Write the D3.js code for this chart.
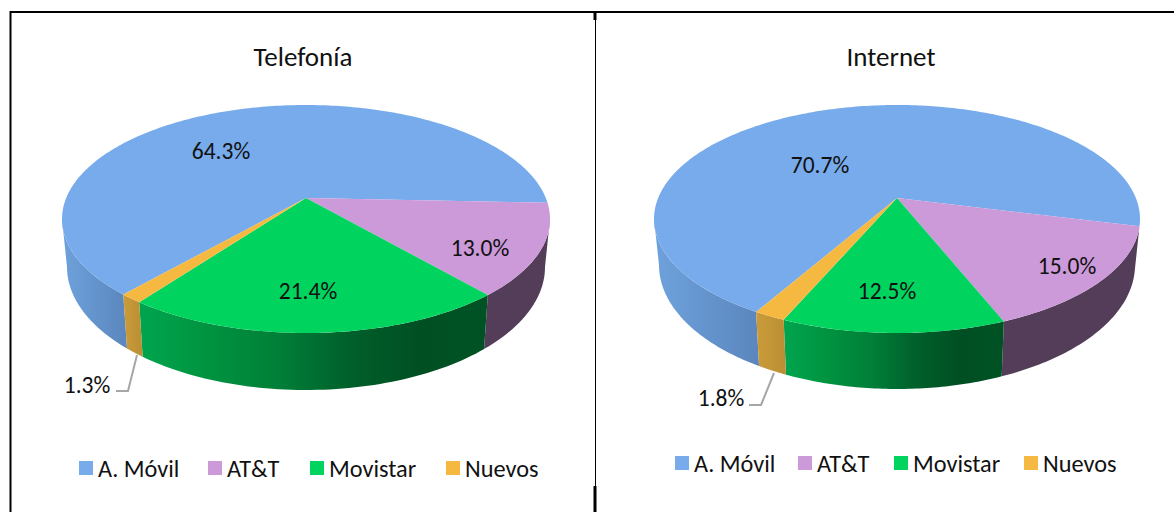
<!DOCTYPE html>
<html lang="es">
<head>
    <meta charset="UTF-8">
    <title>Telefonía e Internet</title>
    <script src="https://d3js.org/d3.v7.min.js"></script>
    <style>
        body {
            margin: 0;
            padding: 0;
            background: #fff;
        }
        svg {
            display: block;
        }
        text {
            font-family: Carlito, Lato, sans-serif;
            fill: #111;
        }
        .title {
            font-size: 27px;
            text-anchor: middle;
        }
        .pct {
            font-size: 23.5px;
            text-anchor: middle;
        }
        .legend-label {
            font-size: 24.3px;
        }
        .leader {
            fill: none;
            stroke: #a6a6a6;
            stroke-width: 2px;
        }
        .frame {
            stroke: #000;
            fill: none;
        }
    </style>
</head>
<body>
    <svg width="1174" height="512"></svg>
    <script>
        // Values
        const categories = ["A. Móvil", "AT&T", "Movistar", "Nuevos"];
        const telefonia = [64.3, 13.0, 21.4, 1.3];
        const internet = [70.7, 15.0, 12.5, 1.8];

        const topColors = ["#78abec", "#cc99d9", "#00d45f", "#f5b942"];
        // side wall gradients, left to right
        const wallStops = [
            ["#6ea2dc", "#5b86bd"],
            ["#533d59", "#533d59"],
            ["#00a54f", "#00933f", "#007f38", "#00602b", "#004f22", "#005225"],
            ["#cb9b39", "#b98f33"]
        ];

        const svg = d3.select("svg");
        const defs = svg.append("defs");

        // Frame lines from the surrounding table
        const frame = svg.append("g").attr("class", "frame");
        const frameLine = (x1, y1, x2, y2, w) => frame.append("line")
            .attr("x1", x1).attr("y1", y1).attr("x2", x2).attr("y2", y2)
            .attr("stroke-width", w);
        frameLine(10, 12, 1174, 12, 2);
        frameLine(10.5, 11, 10.5, 512, 2);
        frameLine(595, 12, 595, 20, 3);
        frameLine(595.5, 20, 595.5, 486, 1);
        frameLine(595, 486, 595, 512, 3);

        // Perspective pull of the pie centre towards the back
        const k = -0.184;
        const rad = Math.PI / 180;

        // Project a d3.pie angle onto an ellipse
        function project(a, e) {
            const c = Math.sin(a), s = -Math.cos(a);
            const w = 1 + k * s;
            return [
                e.cx + e.rx * Math.sqrt(1 - k * k) * c / w,
                e.cy + e.ry * (s + k) / w
            ];
        }

        const line = d3.line();

        function drawPie(p, idx) {
            const g = svg.append("g");
            const pie = d3.pie().sort(null).startAngle(p.start * rad).endAngle((p.start + 360) * rad);
            const arcs = pie(p.values);

            // Front of the wall only: between the two side tangents
            const wallFrom = 100.6 * rad, wallTo = 259.4 * rad;

            arcs.forEach((d, i) => {
                // slices past a full turn come round to the front again
                const turn = d.startAngle >= 2 * Math.PI ? 2 * Math.PI : 0;
                const a0 = Math.max(d.startAngle - turn, wallFrom);
                const a1 = Math.min(d.endAngle - turn, wallTo);
                if (a1 <= a0) return;
                const steps = d3.range(0, 61).map(t => a0 + (a1 - a0) * t / 60);
                const pts = steps.map(a => project(a, p.top))
                    .concat(steps.slice().reverse().map(a => project(a, p.bottom)));

                const id = `wall-${idx}-${i}`;
                const grad = defs.append("linearGradient").attr("id", id);
                grad.selectAll("stop")
                    .data(wallStops[i])
                    .join("stop")
                    .attr("offset", (c, j) => j / (wallStops[i].length - 1))
                    .attr("stop-color", c => c);

                g.append("path")
                    .attr("d", line(pts) + "Z")
                    .attr("fill", `url(#${id})`);
            });

            // Top face
            const apex = [p.top.cx, p.top.cy + p.top.ry * k];
            arcs.forEach((d, i) => {
                const n = Math.ceil((d.endAngle - d.startAngle) / rad) + 2;
                const rim = d3.range(0, n + 1).map(t =>
                    project(d.startAngle + (d.endAngle - d.startAngle) * t / n, p.top));
                g.append("path")
                    .attr("d", line([apex, ...rim]) + "Z")
                    .attr("fill", topColors[i]);
            });

            g.append("text").attr("class", "title")
                .attr("x", p.titleX).attr("y", 66)
                .text(p.title);

            // Percent labels
            g.selectAll(".pct")
                .data(arcs)
                .join("text")
                .attr("class", "pct")
                .attr("x", (d, i) => p.labels[i][0])
                .attr("y", (d, i) => p.labels[i][1])
                .attr("dy", "0.35em")
                .text(d => d3.format(".1f")(d.data) + "%");

            g.append("path").attr("class", "leader").attr("d", line(p.leader));

            // Legend
            const lg = g.append("g");
            categories.forEach((c, i) => {
                lg.append("rect")
                    .attr("x", p.legendX[i]).attr("y", p.legendY - 7)
                    .attr("width", 14).attr("height", 14)
                    .attr("fill", topColors[i]);
                lg.append("text").attr("class", "legend-label")
                    .attr("x", p.legendX[i] + 19).attr("y", p.legendY)
                    .attr("dy", "0.35em")
                    .text(c);
            });
        }

        drawPie({
            title: "Telefonía",
            titleX: 303,
            values: telefonia,
            start: 221,
            top: { cx: 306, cy: 219, rx: 244, ry: 114 },
            bottom: { cx: 306, cy: 267, rx: 239, ry: 123 },
            labels: [[221, 151], [480, 248], [308, 291], [87, 385]],
            leader: [[137, 355], [128, 391], [116, 391]],
            legendX: [79, 208, 310, 446],
            legendY: 468
        }, 0);

        drawPie({
            title: "Internet",
            titleX: 891,
            values: internet,
            start: 209.7,
            top: { cx: 897, cy: 219, rx: 243, ry: 114 },
            bottom: { cx: 897, cy: 265, rx: 238, ry: 124 },
            labels: [[820, 165], [1067, 266], [887, 291], [721, 398]],
            leader: [[774, 373], [761, 405], [749, 405]],
            legendX: [675, 798, 894, 1024],
            legendY: 463
        }, 1);
    </script>
</body>
</html>
